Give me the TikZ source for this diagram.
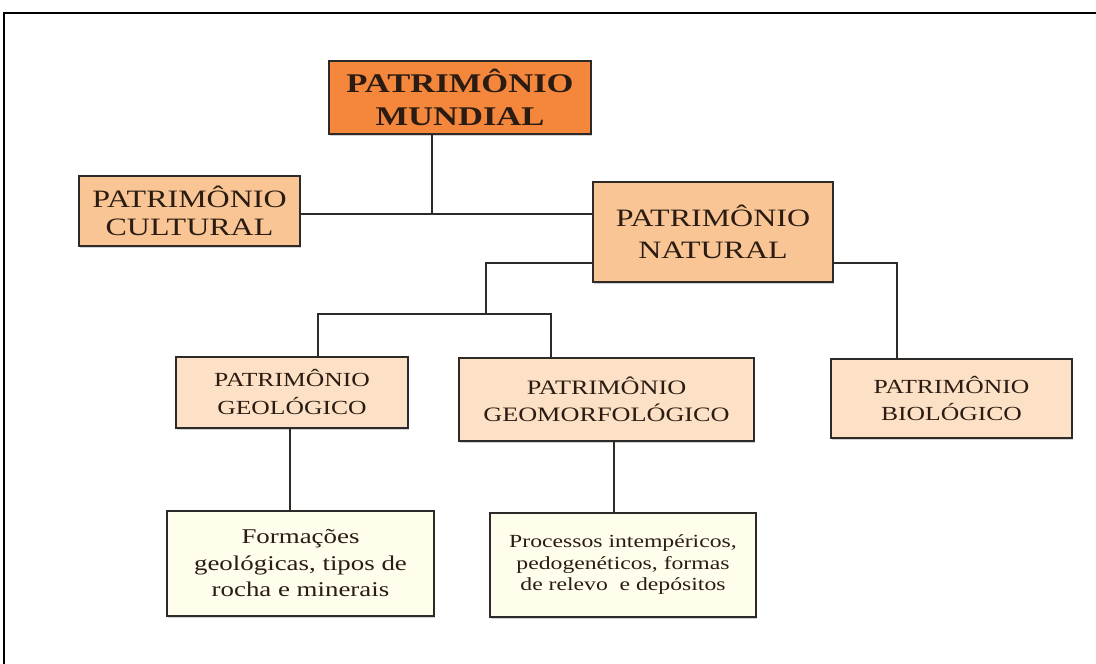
\documentclass[tikz,border=0pt]{standalone}
\usepackage{fontspec}
\newfontfamily\tms[FakeStretch=1.28]{Liberation Serif}
\usetikzlibrary{shadows}
\definecolor{orangeA}{HTML}{F4873C}
\definecolor{peachA}{HTML}{FAC594}
\definecolor{peachB}{HTML}{FDE1C6}
\definecolor{creamA}{HTML}{FFFDEC}
\definecolor{txt}{HTML}{2A1C12}
\definecolor{edge}{HTML}{2E2A28}
\tikzset{
  box/.style={draw=edge, line width=1.6pt, inner sep=0pt, align=center, text=txt,
     drop shadow={shadow xshift=1pt, shadow yshift=-1.5pt, opacity=.35, fill=gray}},
  conn/.style={draw=edge, line width=1.5pt},
}
\begin{document}
\begin{tikzpicture}[x=1pt,y=-1pt]
\useasboundingbox (0,0) rectangle (1096,664);
\fill[white] (0,0) rectangle (1096,664);
% frame
\draw[line width=1.5pt, draw=black] (4,670) -- (4,13) -- (1100,13);

\node[box, fill=orangeA, minimum width=262pt, minimum height=73pt,
      font={\tms\bfseries\fontsize{27}{33}\selectfont}] (mundial) at (460,97.5) {PATRIMÔNIO\\MUNDIAL};
\node[box, fill=peachA, minimum width=221pt, minimum height=70pt,
      font={\tms\fontsize{25}{28}\selectfont}] (cultural) at (189.5,211) {PATRIMÔNIO\\CULTURAL};
\node[box, fill=peachA, minimum width=240pt, minimum height=100pt,
      font={\tms\fontsize{25}{32}\selectfont}] (natural) at (713,232) {PATRIMÔNIO\\NATURAL};
\node[box, fill=peachB, minimum width=232pt, minimum height=71pt,
      font={\tms\fontsize{20}{28}\selectfont}] (geo) at (292,392.5) {PATRIMÔNIO\\GEOLÓGICO};
\node[box, fill=peachB, minimum width=295pt, minimum height=83pt,
      font={\tms\fontsize{20.5}{27}\selectfont}] (geomorf) at (606.5,399.5) {PATRIMÔNIO\\GEOMORFOLÓGICO};
\node[box, fill=peachB, minimum width=241pt, minimum height=79pt,
      font={\tms\fontsize{20}{27}\selectfont}] (bio) at (951.5,398.5) {PATRIMÔNIO\\BIOLÓGICO};
\node[box, fill=creamA, minimum width=267pt, minimum height=105pt,
      font={\tms\fontsize{21}{26.5}\selectfont}] (form) at (300.5,563.5) {Formações\\geológicas, tipos de\\rocha e minerais};
\node[box, fill=creamA, minimum width=266pt, minimum height=104pt,
      font={\tms\fontsize{18.5}{21.5}\selectfont}] (proc) at (623,565) {Processos intempéricos,\\pedogenéticos, formas\\de relevo\ \ e depósitos};

\coordinate (j1) at (432,214);
\coordinate (j2) at (486,263);
\coordinate (j3) at (486,314);
\coordinate (k1) at (318,314);
\coordinate (k2) at (551,314);
\coordinate (j4) at (897,263);
\coordinate (c1) at (290,470);
\coordinate (c2) at (614,470);

\draw[conn] (mundial.south -| j1) -- (j1);
\draw[conn] (cultural.east |- j1) -- (natural.west |- j1);
\draw[conn] (natural.west |- j2) -- (j2) -- (j3);
\draw[conn] (geo.north -| k1) -- (k1) -- (k2) -- (geomorf.north -| k2);
\draw[conn] (natural.east |- j4) -- (j4) -- (bio.north -| j4);
\draw[conn] (geo.south -| c1) -- (form.north -| c1);
\draw[conn] (geomorf.south -| c2) -- (proc.north -| c2);
\end{tikzpicture}
\end{document}
